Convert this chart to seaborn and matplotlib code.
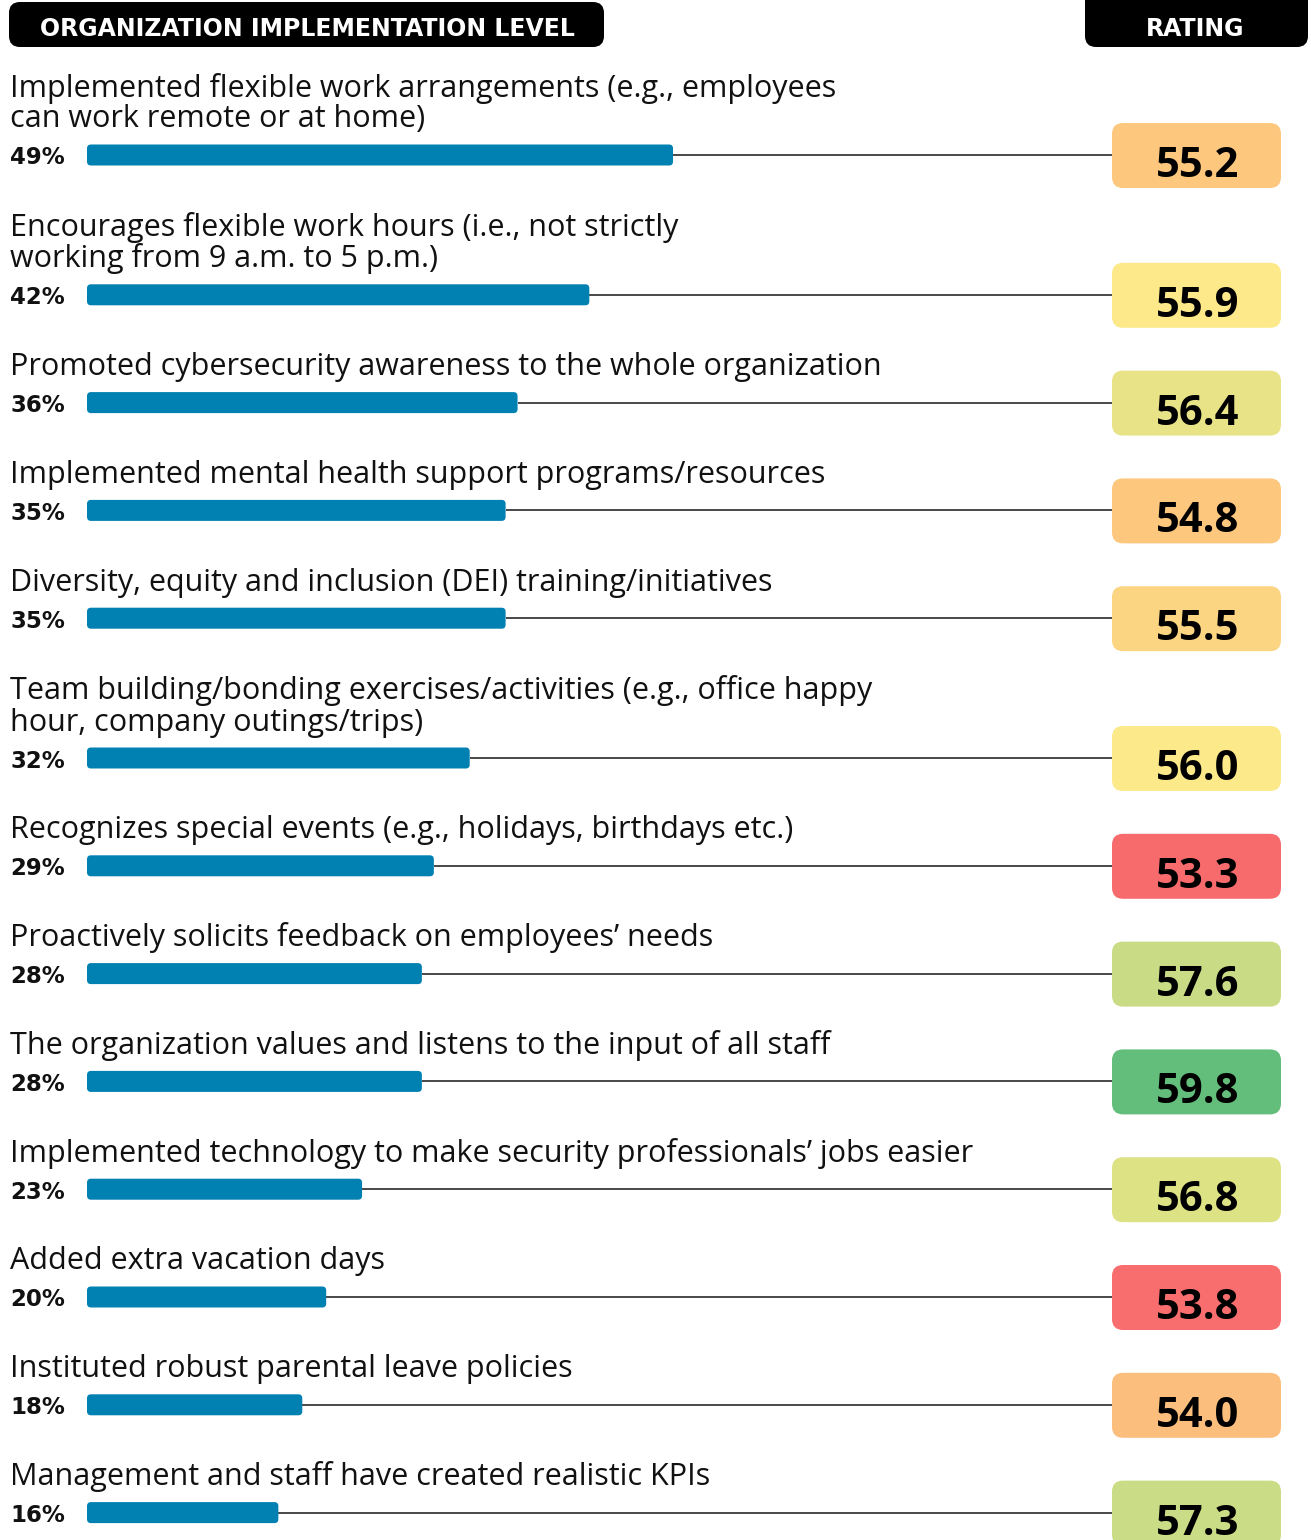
import matplotlib
matplotlib.use("Agg")
import matplotlib.pyplot as plt
import seaborn as sns
import pandas as pd
from matplotlib.patches import FancyBboxPatch

labels = [
    "Implemented flexible work arrangements (e.g., employees\ncan work remote or at home)",
    "Encourages flexible work hours (i.e., not strictly\nworking from 9 a.m. to 5 p.m.)",
    "Promoted cybersecurity awareness to the whole organization",
    "Implemented mental health support programs/resources",
    "Diversity, equity and inclusion (DEI) training/initiatives",
    "Team building/bonding exercises/activities (e.g., office happy\nhour, company outings/trips)",
    "Recognizes special events (e.g., holidays, birthdays etc.)",
    "Proactively solicits feedback on employees\u2019 needs",
    "The organization values and listens to the input of all staff",
    "Implemented technology to make security professionals\u2019 jobs easier",
    "Added extra vacation days",
    "Instituted robust parental leave policies",
    "Management and staff have created realistic KPIs",
]
pct = [49, 42, 36, 35, 35, 32, 29, 28, 28, 23, 20, 18, 16]
ratings = [55.2, 55.9, 56.4, 54.8, 55.5, 56.0, 53.3, 57.6, 59.8, 56.8, 53.8, 54.0, 57.3]
rating_colors = ["#FDC87E", "#FDE98A", "#E9E388", "#FDC87E", "#FCD583", "#FBE98A",
                 "#F86B6D", "#C9DC85", "#63BE7B", "#DDE284", "#F86E6F", "#FCBE7C", "#CADC85"]
header_left = "ORGANIZATION IMPLEMENTATION LEVEL"
header_right = "RATING"

BAR_COLOR = "#0180B2"
W, H = 1311, 1540
PX_PER_PCT = 11.96
X0 = 87
BOX_L, BOX_R = 1112, 1281

sns.set_theme(style="white")
plt.rcParams['font.family'] = ['Open Sans', 'DejaVu Sans']
BOLD_FAMILY = ['DejaVu Sans']

fig = plt.figure(figsize=(W / 100, H / 100), dpi=100)
fig.patch.set_facecolor("white")

# row centres (layout)
ys = []
y = 155.0
for i, lab in enumerate(labels):
    n = lab.count("\n") + 1
    if i > 0:
        y += 107.8 + 32 * (n - 1)
    ys.append(y)

# bar axes: x in percent, y in pixels
ax = fig.add_axes([0, 0, 1, 1])
df = pd.DataFrame({"pct": pct, "ypos": ys})
sns.barplot(data=df, x="pct", y="ypos", orient="h", native_scale=True,
            color=BAR_COLOR, ax=ax, saturation=1)
ax.set_xlim(-X0 / PX_PER_PCT, (W - X0) / PX_PER_PCT)
ax.set_ylim(H, 0)
ax.axis("off")

bar_h = 21
for p in list(ax.patches):
    x, yb, w, h = p.get_x(), p.get_y(), p.get_width(), p.get_height()
    yc = yb + h / 2
    p.remove()
    ax.add_patch(FancyBboxPatch((x, yc - bar_h / 2), w, bar_h,
                                boxstyle=f"round,pad=0,rounding_size={4 / PX_PER_PCT}",
                                mutation_aspect=PX_PER_PCT,
                                facecolor=BAR_COLOR, edgecolor="none", zorder=3))

box_left_pct = (BOX_L - X0) / PX_PER_PCT
ax.hlines(ys, pct, box_left_pct, color="#3a3a3a", lw=1.3, zorder=1)

# decoration axes in pixel coordinates
deco = fig.add_axes([0, 0, 1, 1])
deco.set_xlim(0, W)
deco.set_ylim(H, 0)
deco.axis("off")
deco.patch.set_alpha(0)

deco.add_patch(FancyBboxPatch((9, 2), 595, 45, boxstyle="round,pad=0,rounding_size=11",
                              facecolor="black", edgecolor="none"))
deco.text(307, 36, header_left, color="white", fontsize=17, fontweight="bold",
          family=BOLD_FAMILY, ha="center", va="baseline")
deco.add_patch(FancyBboxPatch((1085, -25), 223, 72, boxstyle="round,pad=0,rounding_size=11",
                              facecolor="black", edgecolor="none"))
deco.text(1195, 36, header_right, color="white", fontsize=17, fontweight="bold",
          family=BOLD_FAMILY, ha="center", va="baseline")

for lab, yc, p, r, c in zip(labels, ys, pct, ratings, rating_colors):
    lines = lab.split("\n")
    n = len(lines)
    for j, line in enumerate(lines):
        base = yc - 27.5 - 31 * (n - 1 - j)
        deco.text(10, base, line, fontsize=22, color="#111111", ha="left", va="baseline")
    deco.text(10, yc + 9.5, f"{p}%", fontsize=16.5, fontweight="bold", color="#111111",
              family=BOLD_FAMILY, ha="left", va="baseline")
    deco.add_patch(FancyBboxPatch((BOX_L, yc - 32), BOX_R - BOX_L, 65,
                                  boxstyle="round,pad=0,rounding_size=11",
                                  facecolor=c, edgecolor="none"))
    deco.text((BOX_L + BOX_R) / 2 + 1, yc + 22, f"{r:.1f}", fontsize=30, fontweight="bold",
              color="black", ha="center", va="baseline")

fig.savefig("out.png", dpi=100, facecolor="white")
